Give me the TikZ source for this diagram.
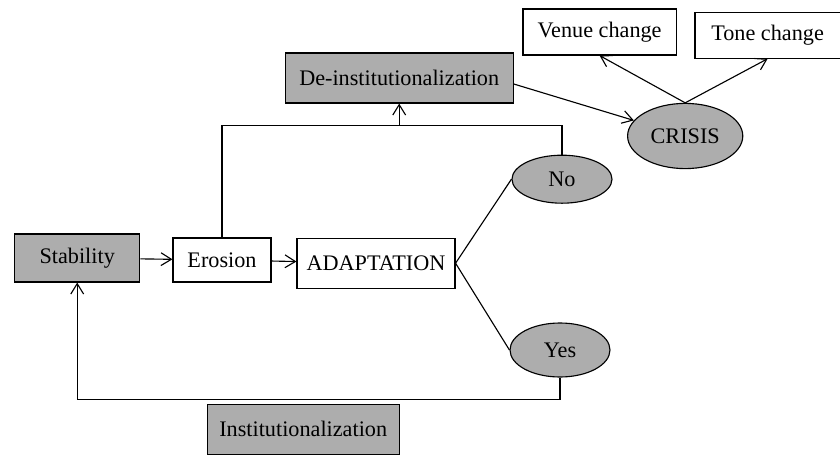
\documentclass[tikz,border=0pt]{standalone}
\usepackage{fontspec}
\setmainfont{Liberation Serif}
\usetikzlibrary{shapes.geometric,arrows.meta}

\begin{document}
\begin{tikzpicture}[
        >={Straight Barb[length=2.6mm,width=3.2mm]},
        line width=0.8pt,
        font=\fontsize{15.8}{18}\selectfont,
        box/.style={rectangle,draw=black,inner sep=0pt},
        shadedbox/.style={box,fill=black!32},
        oval/.style={ellipse,draw=black,fill=black!32,inner sep=0pt}]
        \useasboundingbox (0,0) rectangle (21.00,-11.43);

        \node[shadedbox,minimum width=3.13cm,minimum height=1.20cm] (Stab)   at ( 1.93, -6.45) {Stability};
        \node[box,minimum width=2.45cm,minimum height=1.10cm]       (Eros)   at ( 5.55, -6.50) {Erosion};
        \node[box,minimum width=3.95cm,minimum height=1.25cm]       (Adapt)  at ( 9.40, -6.58) {ADAPTATION};
        \node[shadedbox,minimum width=5.70cm,minimum height=1.25cm] (Deinst) at ( 9.98, -1.95) {De-institutionalization};
        \node[box,minimum width=3.83cm,minimum height=1.15cm]       (Venue)  at (14.99, -0.80) {Venue change};
        \node[box,minimum width=3.63cm,minimum height=1.15cm]       (Tone)   at (19.19, -0.88) {Tone change};
        \node[oval,minimum width=2.88cm,minimum height=1.63cm]      (Crisis) at (17.13, -3.40) {CRISIS};
        \node[oval,minimum width=2.50cm,minimum height=1.20cm]      (No)     at (14.05, -4.48) {No};
        \node[oval,minimum width=2.50cm,minimum height=1.35cm]      (Yes)    at (14.00, -8.75) {Yes};
        \node[shadedbox,minimum width=4.80cm,minimum height=1.25cm] (Inst)   at ( 7.58,-10.73) {Institutionalization};

        \coordinate (NoTop)  at (14.05, -3.13);
        \coordinate (YesLow) at (14.00, -9.98);

        \draw[->]    (Stab) to (Eros);
        \draw[->]    (Eros) to (Adapt);
        \draw[-]     (Adapt.east) to (No.west);
        \draw[-]     (Adapt.east) to (Yes.west);
        \draw[-]     (No.north) to (NoTop) -| (Eros.north);
        \draw[->]    (Deinst.south |- NoTop) to (Deinst.south);
        \draw[->]    ([yshift=-0.15cm]Deinst.east) to (Crisis);
        \draw[->]    (Crisis.north) to (Venue.south);
        \draw[->]    (Crisis.north) to (Tone.south);
        \draw[->]    (Yes.south) to (YesLow) -| (Stab.south);
      \end{tikzpicture}
\end{document}
